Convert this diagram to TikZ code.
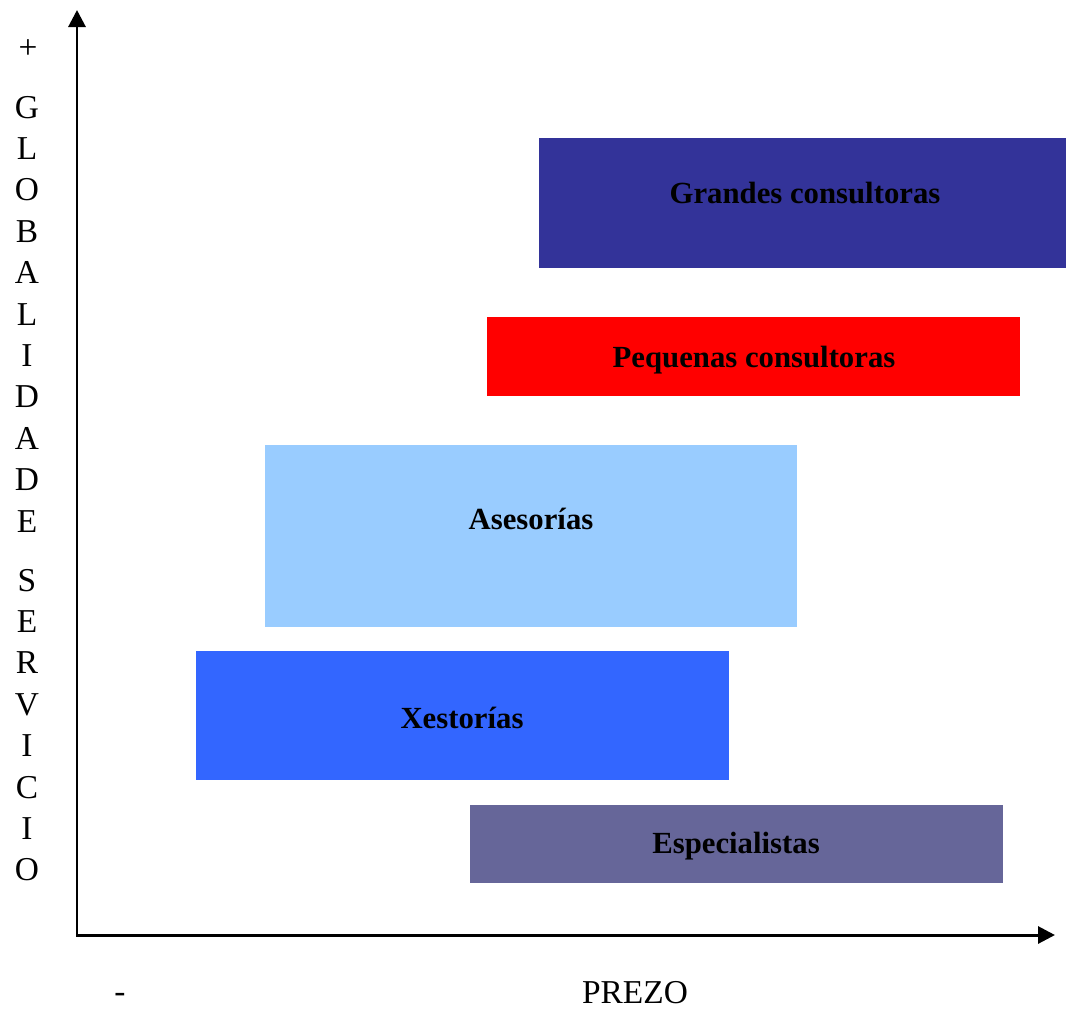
\documentclass[tikz,border=0pt]{standalone}
\usepackage{fontspec}
\setmainfont{Liberation Serif}
\usetikzlibrary{arrows.meta}
\definecolor{grandescol}{HTML}{333399}
\definecolor{pequenascol}{HTML}{FF0000}
\definecolor{asesoriascol}{HTML}{99CCFF}
\definecolor{xestoriascol}{HTML}{3366FF}
\definecolor{especialcol}{HTML}{666699}

\begin{document}
\begin{tikzpicture}[x=0.02cm,y=-0.02cm,
    band/.style={draw=none,inner sep=0pt,outer sep=0pt},
    bandtxt/.style={anchor=base,font=\fontsize{17.5}{19}\selectfont\bfseries},
    axtxt/.style={anchor=base,font=\fontsize{19}{22}\selectfont},
    axis/.style={line width=1.7pt,{Triangle[length=0.34cm,width=0.34cm]}-{Triangle[length=0.34cm,width=0.34cm]}}]
  \useasboundingbox (0,0) rectangle (1066,1009);
  \node[band,fill=grandescol,minimum width=10.54cm,minimum height=2.6cm] (grandes) at (802.5,203) {};
  \node[band,fill=pequenascol,minimum width=10.66cm,minimum height=1.58cm] (pequenas) at (753.5,356.5) {};
  \node[band,fill=asesoriascol,minimum width=10.64cm,minimum height=3.64cm] (asesorias) at (531,536) {};
  \node[band,fill=xestoriascol,minimum width=10.66cm,minimum height=2.58cm] (xestorias) at (462.5,715.5) {};
  \node[band,fill=especialcol,minimum width=10.66cm,minimum height=1.56cm] (especial) at (736.5,844) {};
  \node[bandtxt] (grandestxt) at (805,203) {Grandes consultoras};
  \node[bandtxt] (pequenastxt) at (754,367) {Pequenas consultoras};
  \node[bandtxt] (asesoriastxt) at (531,529) {Asesorías};
  \node[bandtxt] (xestoriastxt) at (462,728) {Xestorías};
  \node[bandtxt] (especialtxt) at (736,853) {Especialistas};
  \coordinate (orig) at (77,935);
  \coordinate (ytop) at (77,10);
  \coordinate (xend) at (1055,935);
  \draw[axis] (ytop) -- (orig) -- (xend);
  \node[axtxt] (mais) at (28,58) {+};
  \node[axtxt] (menos) at (120,1002) {-};
  \node[axtxt] (prezo) at (635,1003) {PREZO};
  \foreach \l [count=\i from 0] in {G,L,O,B,A,L,I,D,A,D,E}
    \node[axtxt] (glob\i) at (27,118+41.4*\i) {\l};
  \foreach \l [count=\i from 0] in {S,E,R,V,I,C,I,O}
    \node[axtxt] (serv\i) at (27,591+41.4*\i) {\l};
\end{tikzpicture}
\end{document}
